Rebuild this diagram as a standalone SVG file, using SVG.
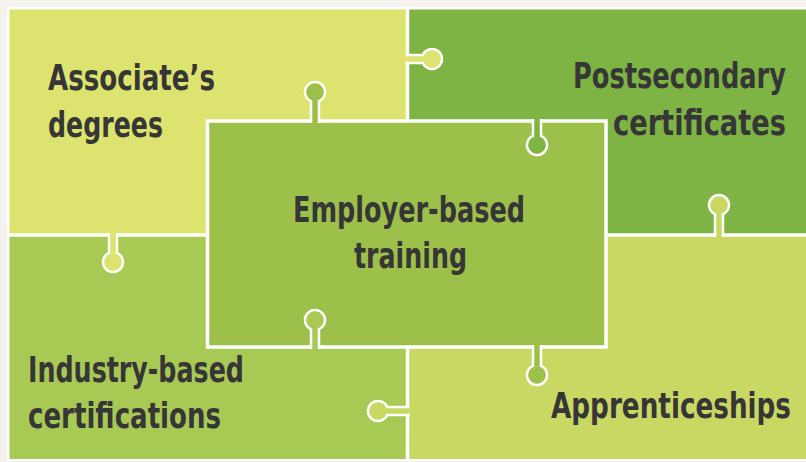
<svg xmlns="http://www.w3.org/2000/svg" width="806" height="462" viewBox="0 0 806 462">
<style>
.t{font-family:"DejaVu Sans Condensed","DejaVu Sans","Liberation Sans",sans-serif;font-weight:bold;font-size:31px;fill:#363636}
.e{text-anchor:end}
.line{stroke:#ffffff;stroke-width:3.5;fill:none}
.knob{stroke:#ffffff;stroke-width:2.5}
</style>
<rect x="0" y="0" width="806" height="462" fill="#f4f1ee"/>
<rect x="7" y="7" width="799" height="454" fill="#ffffff"/>
<g id="associates">
<rect x="9.5" y="9.5" width="398" height="225.5" fill="#dce36e"/>
<g transform="scale(1,1.12)">
<text class="t" x="48" y="80.36" textLength="167" lengthAdjust="spacingAndGlyphs">Associate’s</text>
<text class="t" x="48" y="122.32" textLength="115" lengthAdjust="spacingAndGlyphs">degrees</text>
</g>
</g>
<g id="postsecondary">
<rect x="407.5" y="9.5" width="398.5" height="225.5" fill="#7db443"/>
<g transform="scale(1,1.12)">
<text class="t e" x="786" y="78.57" textLength="213" lengthAdjust="spacingAndGlyphs">Postsecondary</text>
<text class="t e" x="786" y="120.54" textLength="173" lengthAdjust="spacingAndGlyphs">certificates</text>
</g>
</g>
<g id="industry">
<rect x="9.5" y="235" width="398" height="224" fill="#a9c955"/>
<g transform="scale(1,1.12)">
<text class="t" x="28" y="341.07" textLength="216" lengthAdjust="spacingAndGlyphs">Industry-based</text>
<text class="t" x="28" y="382.14" textLength="193" lengthAdjust="spacingAndGlyphs">certifications</text>
</g>
</g>
<g id="apprenticeships">
<rect x="407.5" y="235" width="398.5" height="224" fill="#c8d862"/>
<g transform="scale(1,1.12)">
<text class="t e" x="791" y="373.21" textLength="240" lengthAdjust="spacingAndGlyphs">Apprenticeships</text>
</g>
</g>
<g id="connectors">
<line class="line" x1="407.5" y1="9" x2="407.5" y2="459"/>
<line class="line" x1="9" y1="235" x2="806" y2="235"/>
</g>
<g id="employer">
<rect x="207.5" y="121" width="398.5" height="226" fill="#9dc04a" stroke="#ffffff" stroke-width="3.5"/>
<g transform="scale(1,1.12)">
<text class="t" x="293" y="198.21" textLength="232" lengthAdjust="spacingAndGlyphs">Employer-based</text>
<text class="t" x="354" y="239.29" textLength="113" lengthAdjust="spacingAndGlyphs">training</text>
</g>
</g>
<g id="knobs">
<path class="knob" fill="#9dc04a" d="M311 123 V101.17 A10 10 0 1 1 319 101.17 V123"/>
<path class="knob" fill="#dce36e" d="M405.5 55 H422.83 A10 10 0 1 1 422.83 63 H405.5"/>
<path class="knob" fill="#7db443" d="M533 119 V135.83 A10 10 0 1 0 541 135.83 V119"/>
<path class="knob" fill="#c8d862" d="M715 237 V214.17 A10 10 0 1 1 723 214.17 V237"/>
<path class="knob" fill="#dce36e" d="M109 233 V252.83 A10 10 0 1 0 117 252.83 V233"/>
<path class="knob" fill="#a9c955" d="M311 349 V329.17 A10 10 0 1 1 319 329.17 V349"/>
<path class="knob" fill="#9dc04a" d="M533 345 V365.83 A10 10 0 1 0 541 365.83 V345"/>
<path class="knob" fill="#c8d862" d="M409.5 407 H387.17 A10 10 0 1 0 387.17 415 H409.5"/>
</g>
</svg>
